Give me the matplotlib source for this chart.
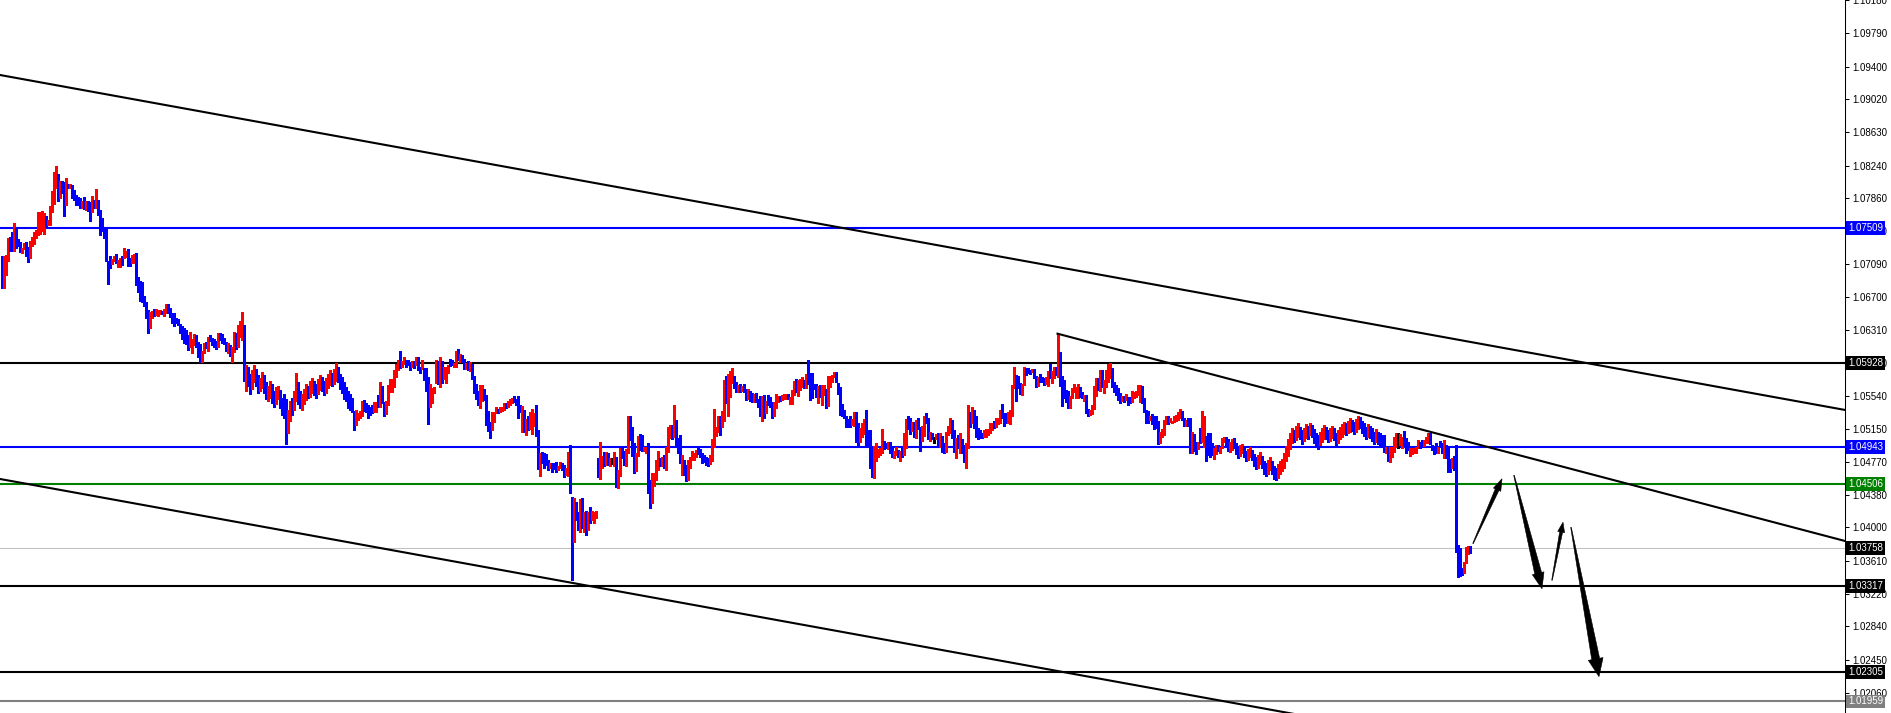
#!/usr/bin/env python3
"""EURUSD-style bar chart with channel lines, levels and forecast arrows."""

import numpy as np
import matplotlib
matplotlib.use('Agg')
import matplotlib.pyplot as plt
from matplotlib.patches import Polygon
from matplotlib.transforms import blended_transform_factory

W, H = 1891, 713
PLOT_W = 1845

# Bar highs / lows in pips (price * 1e4), one entry per bar, left to right
high_pips = [
    # 0-120
    10718, 10718, 10719, 10739, 10740, 10746, 10757, 10751, 10738, 10734,
    10727, 10733, 10734, 10729, 10736, 10740, 10746, 10748, 10770, 10770,
    10771, 10768, 10765, 10760, 10777, 10794, 10816, 10824, 10814, 10806,
    10806, 10805, 10809, 10802, 10802, 10801, 10795, 10790, 10787, 10786,
    10782, 10787, 10782, 10782, 10781, 10788, 10784, 10797, 10784, 10772,
    10763, 10750, 10751, 10712, 10718, 10715, 10718, 10720, 10713, 10716,
    10718, 10727, 10724, 10726, 10716, 10719, 10720, 10722, 10693, 10689,
    10687, 10671, 10664, 10655, 10652, 10653, 10656, 10656, 10655, 10655,
    10653, 10656, 10662, 10662, 10657, 10651, 10651, 10645, 10644, 10638,
    10636, 10634, 10631, 10625, 10629, 10621, 10627, 10625, 10617, 10615,
    10607, 10616, 10617, 10623, 10625, 10622, 10621, 10618, 10628, 10628,
    10627, 10622, 10617, 10616, 10614, 10611, 10629, 10628, 10637, 10642,
    10652,
    # 121-174
    10637, 10590, 10588, 10580, 10584, 10590, 10586, 10578, 10575, 10582,
    10579, 10570, 10566, 10572, 10568, 10560, 10564, 10566, 10561, 10552,
    10556, 10550, 10538, 10548, 10552, 10560, 10581, 10570, 10560, 10556,
    10562, 10568, 10566, 10572, 10575, 10571, 10568, 10574, 10578, 10576,
    10571, 10575, 10580, 10584, 10581, 10586, 10593, 10588, 10580, 10576,
    10570, 10565, 10560, 10556,
    # 175-262
    10552, 10536, 10538, 10534, 10536, 10548, 10549, 10546, 10543, 10541,
    10543, 10547, 10547, 10555, 10570, 10566, 10547, 10548, 10567, 10574,
    10574, 10584, 10591, 10596, 10607, 10595, 10600, 10596, 10596, 10594,
    10595, 10595, 10600, 10600, 10588, 10596, 10587, 10587, 10576, 10568,
    10563, 10565, 10596, 10595, 10600, 10595, 10588, 10588, 10590, 10597,
    10596, 10593, 10607, 10609, 10603, 10602, 10597, 10593, 10595, 10594,
    10591, 10577, 10568, 10560, 10567, 10567, 10562, 10555, 10536, 10524,
    10535, 10535, 10541, 10539, 10541, 10541, 10546, 10546, 10548, 10551,
    10552, 10554, 10551, 10554, 10543, 10542, 10538, 10527,
    # 263-349
    10531, 10535, 10539, 10534, 10543, 10514, 10487, 10488, 10487, 10486,
    10479, 10475, 10475, 10475, 10477, 10472, 10477, 10475, 10473, 10470,
    10488, 10497, 10436, 10434, 10430, 10418, 10433, 10434, 10418, 10419,
    10418, 10424, 10419, 10418, 10419, 10481, 10500, 10484, 10488, 10488,
    10487, 10481, 10481, 10488, 10482, 10467, 10493, 10494, 10490, 10492,
    10530, 10530, 10518, 10499, 10487, 10507, 10509, 10508, 10494, 10494,
    10499, 10456, 10464, 10464, 10479, 10490, 10481, 10482, 10485, 10494,
    10518, 10520, 10520, 10543, 10526, 10505, 10508, 10485, 10479, 10473,
    10479, 10482, 10490, 10487, 10491, 10493, 10492,
    # 350-437
    10487, 10485, 10482, 10481, 10485, 10504, 10539, 10518, 10530, 10530,
    10536, 10573, 10577, 10580, 10583, 10587, 10577, 10570, 10567, 10568,
    10566, 10568, 10562, 10562, 10560, 10557, 10556, 10557, 10551, 10554,
    10554, 10555, 10548, 10555, 10553, 10547, 10547, 10556, 10554, 10554,
    10555, 10556, 10556, 10556, 10553, 10561, 10572, 10574, 10573, 10574,
    10576, 10573, 10580, 10596, 10581, 10581, 10568, 10568, 10566, 10567,
    10567, 10567, 10562, 10577, 10577, 10579, 10582, 10582, 10569, 10565,
    10545, 10538, 10531, 10527, 10530, 10527, 10535, 10535, 10522, 10516,
    10522, 10527, 10538, 10514, 10514, 10494, 10495, 10499,
    # 438-524
    10492, 10493, 10515, 10501, 10499, 10500, 10500, 10493, 10490, 10494,
    10491, 10490, 10494, 10511, 10527, 10530, 10528, 10524, 10524, 10526,
    10528, 10518, 10519, 10530, 10534, 10528, 10512, 10511, 10506, 10509,
    10511, 10511, 10507, 10499, 10512, 10519, 10528, 10526, 10514, 10505,
    10508, 10511, 10504, 10497, 10499, 10543, 10535, 10541, 10538, 10530,
    10516, 10514, 10511, 10514, 10515, 10515, 10522, 10522, 10525, 10528,
    10528, 10538, 10545, 10534, 10534, 10535, 10538, 10567, 10588, 10579,
    10577, 10569, 10568, 10588, 10587, 10587, 10584, 10586, 10586, 10577,
    10576, 10580, 10576, 10575, 10576, 10583, 10591,
    # 525-611
    10583, 10588, 10588, 10627, 10605, 10577, 10573, 10561, 10560, 10554,
    10563, 10568, 10565, 10568, 10565, 10559, 10555, 10555, 10539, 10538,
    10543, 10566, 10575, 10575, 10584, 10584, 10573, 10584, 10591, 10593,
    10587, 10570, 10567, 10563, 10557, 10554, 10554, 10556, 10553, 10553,
    10560, 10559, 10560, 10567, 10567, 10566, 10552, 10538, 10536, 10530,
    10533, 10530, 10531, 10525, 10512, 10515, 10526, 10531, 10530, 10528,
    10525, 10531, 10532, 10535, 10539, 10536, 10528, 10526, 10528, 10528,
    10512, 10509, 10500, 10500, 10516, 10536, 10530, 10507, 10511, 10511,
    10499, 10493, 10497, 10497, 10494, 10505, 10506,
    # 612-689
    10506, 10503, 10500, 10504, 10505, 10499, 10494, 10496, 10498, 10495,
    10490, 10492, 10494, 10491, 10486, 10482, 10485, 10488, 10484, 10478,
    10476, 10479, 10482, 10478, 10472, 10470, 10474, 10478, 10480, 10487,
    10495, 10503, 10510, 10516, 10514, 10519, 10522, 10518, 10514, 10517,
    10521, 10519, 10522, 10520, 10515, 10510, 10508, 10512, 10516, 10520,
    10518, 10514, 10517, 10519, 10516, 10511, 10514, 10518, 10521, 10524,
    10522, 10525, 10528, 10526, 10523, 10527, 10531, 10529, 10525, 10522,
    10518, 10521, 10519, 10516, 10512, 10515, 10512, 10510,
    # 690-734
    10508, 10508, 10494, 10494, 10494, 10494, 10506, 10511, 10511, 10509,
    10506, 10513, 10505, 10500, 10493, 10493, 10493, 10494, 10502, 10500,
    10502, 10502, 10506, 10511, 10511, 10497, 10494, 10499, 10494, 10501,
    10499, 10502, 10497, 10493, 10480, 10481, 10484, 10497, 10379, 10376,
    10352, 10359, 10377, 10378, 10378,
]

low_pips = [
    # 0-120
    10681, 10681, 10696, 10712, 10724, 10724, 10724, 10727, 10730, 10723,
    10722, 10726, 10718, 10711, 10716, 10730, 10732, 10739, 10743, 10744,
    10747, 10744, 10752, 10754, 10754, 10770, 10779, 10798, 10782, 10786,
    10792, 10765, 10778, 10798, 10798, 10786, 10784, 10778, 10778, 10774,
    10774, 10773, 10772, 10771, 10759, 10770, 10774, 10774, 10766, 10743,
    10747, 10739, 10712, 10685, 10704, 10709, 10712, 10710, 10705, 10705,
    10708, 10716, 10717, 10706, 10706, 10710, 10710, 10684, 10676, 10665,
    10664, 10660, 10645, 10628, 10634, 10645, 10648, 10649, 10648, 10650,
    10650, 10648, 10651, 10651, 10647, 10640, 10636, 10640, 10637, 10628,
    10621, 10616, 10615, 10608, 10611, 10604, 10614, 10611, 10600, 10594,
    10594, 10604, 10610, 10607, 10618, 10614, 10611, 10609, 10611, 10620,
    10616, 10615, 10607, 10604, 10601, 10594, 10605, 10609, 10611, 10623,
    10620,
    # 121-174
    10572, 10560, 10566, 10556, 10562, 10570, 10566, 10557, 10560, 10563,
    10558, 10550, 10548, 10552, 10546, 10541, 10545, 10550, 10540, 10532,
    10528, 10498, 10510, 10525, 10532, 10538, 10548, 10545, 10540, 10538,
    10544, 10549, 10552, 10553, 10558, 10555, 10552, 10556, 10561, 10560,
    10555, 10558, 10563, 10567, 10566, 10568, 10572, 10570, 10562, 10557,
    10551, 10548, 10540, 10537,
    # 175-262
    10535, 10514, 10520, 10526, 10528, 10531, 10536, 10535, 10528, 10532,
    10534, 10535, 10535, 10541, 10541, 10546, 10531, 10533, 10543, 10559,
    10559, 10565, 10576, 10584, 10587, 10588, 10591, 10588, 10590, 10584,
    10588, 10587, 10590, 10584, 10581, 10586, 10573, 10560, 10521, 10541,
    10546, 10557, 10569, 10568, 10565, 10569, 10574, 10569, 10581, 10589,
    10590, 10588, 10588, 10596, 10594, 10594, 10586, 10586, 10584, 10583,
    10574, 10557, 10551, 10543, 10540, 10548, 10549, 10520, 10513, 10505,
    10514, 10524, 10534, 10534, 10535, 10536, 10538, 10540, 10541, 10543,
    10546, 10547, 10543, 10528, 10535, 10512, 10512, 10508,
    # 263-349
    10514, 10515, 10509, 10519, 10507, 10468, 10460, 10475, 10470, 10473,
    10467, 10469, 10465, 10468, 10465, 10467, 10470, 10467, 10459, 10461,
    10460, 10440, 10338, 10383, 10409, 10397, 10394, 10399, 10394, 10391,
    10397, 10405, 10409, 10405, 10411, 10459, 10457, 10470, 10472, 10473,
    10473, 10472, 10474, 10472, 10447, 10446, 10460, 10481, 10473, 10472,
    10487, 10502, 10484, 10464, 10466, 10484, 10491, 10490, 10490, 10487,
    10440, 10423, 10429, 10448, 10456, 10467, 10472, 10472, 10470, 10467,
    10488, 10505, 10504, 10506, 10497, 10487, 10475, 10461, 10461, 10454,
    10456, 10469, 10479, 10479, 10482, 10486, 10482,
    # 350-437
    10475, 10477, 10473, 10472, 10474, 10478, 10494, 10507, 10512, 10508,
    10518, 10525, 10546, 10531, 10553, 10569, 10563, 10559, 10559, 10559,
    10560, 10559, 10549, 10551, 10548, 10547, 10547, 10547, 10541, 10530,
    10525, 10528, 10534, 10543, 10541, 10528, 10530, 10540, 10547, 10548,
    10549, 10551, 10551, 10551, 10545, 10545, 10555, 10559, 10554, 10561,
    10565, 10563, 10563, 10568, 10549, 10552, 10562, 10553, 10546, 10553,
    10543, 10555, 10540, 10542, 10565, 10570, 10576, 10570, 10556, 10532,
    10531, 10528, 10518, 10518, 10518, 10520, 10519, 10500, 10494, 10500,
    10506, 10509, 10494, 10494, 10469, 10459, 10458, 10478,
    # 438-524
    10482, 10485, 10487, 10492, 10493, 10492, 10487, 10482, 10481, 10485,
    10482, 10478, 10482, 10485, 10493, 10515, 10509, 10513, 10506, 10505,
    10515, 10490, 10501, 10507, 10522, 10504, 10501, 10504, 10499, 10504,
    10494, 10494, 10488, 10487, 10488, 10508, 10511, 10505, 10488, 10481,
    10493, 10487, 10487, 10477, 10470, 10493, 10518, 10522, 10516, 10506,
    10504, 10505, 10505, 10506, 10506, 10508, 10511, 10514, 10516, 10518,
    10521, 10522, 10528, 10519, 10522, 10522, 10521, 10531, 10563, 10548,
    10563, 10556, 10555, 10567, 10579, 10581, 10580, 10582, 10575, 10565,
    10566, 10570, 10570, 10567, 10568, 10566, 10575,
    # 525-611
    10569, 10575, 10579, 10576, 10566, 10542, 10552, 10547, 10540, 10540,
    10552, 10559, 10552, 10552, 10553, 10552, 10548, 10534, 10530, 10532,
    10533, 10539, 10554, 10561, 10560, 10565, 10557, 10565, 10570, 10575,
    10565, 10559, 10555, 10549, 10546, 10548, 10547, 10549, 10543, 10546,
    10547, 10552, 10553, 10555, 10547, 10546, 10535, 10522, 10522, 10526,
    10521, 10515, 10516, 10498, 10499, 10506, 10508, 10521, 10521, 10524,
    10522, 10524, 10525, 10526, 10528, 10526, 10519, 10519, 10519, 10487,
    10487, 10490, 10486, 10492, 10499, 10500, 10494, 10478, 10485, 10482,
    10485, 10480, 10486, 10490, 10487, 10493, 10500,
    # 612-689
    10494, 10490, 10488, 10491, 10493, 10486, 10481, 10484, 10487, 10482,
    10478, 10479, 10483, 10479, 10472, 10468, 10470, 10474, 10469, 10463,
    10460, 10462, 10467, 10462, 10457, 10455, 10458, 10462, 10466, 10470,
    10478, 10484, 10492, 10499, 10500, 10502, 10506, 10503, 10498, 10501,
    10505, 10504, 10508, 10506, 10499, 10494, 10492, 10496, 10500, 10504,
    10503, 10500, 10501, 10505, 10502, 10497, 10499, 10503, 10506, 10509,
    10508, 10510, 10512, 10513, 10509, 10512, 10515, 10516, 10510, 10507,
    10503, 10506, 10505, 10501, 10498, 10500, 10498, 10496,
    # 690-734
    10494, 10488, 10487, 10478, 10477, 10482, 10488, 10494, 10493, 10497,
    10493, 10497, 10487, 10491, 10484, 10486, 10487, 10487, 10493, 10493,
    10495, 10495, 10499, 10499, 10498, 10491, 10486, 10487, 10487, 10494,
    10487, 10481, 10481, 10465, 10465, 10469, 10467, 10371, 10342, 10343,
    10344, 10347, 10358, 10369, 10370,
]

# r = up bar, b = down bar, k = unchanged
bar_dir = (
    "brrrbbrbbb" "rrbbrrrrrr" "rrbrrrrrbr" "bbrbrbbbbb" "rbrbbrbrbb"
    "bbbbbrrbrr" "brrbbrrbbb" "bbbbrrbrrr" "brrbbbbbbb" "bbbbrrrbbb"
    "rrbrbbbbrb" "bbbrbrrbrr" "r"
    "brbbrrbbrr" "bbrrbbrrbb" "bbrrbrrbbr" "rrbrrbbrrb" "brrrbrrbbb"
    "bbbb"
    "bbrrrrbbbb" "brrbrbbrrr" "rrrrbrrbbb" "rbrbbrbbbr" "rrrbrbrrrb"
    "brrbrbbrbr" "bbbbrrbbbb" "rrrbrrrbrr" "rbbbbrbr"
    "brrrbbrbbb" "brbbbrrbbr" "rbbrbbrbrb" "rbrrrbrrbr" "brkrbrrbbr"
    "rbbbrrbbrr" "bbrrrrbrbr" "rrbrbbbrbb" "rrrrrbb"
    "bbbbrrrrrb" "rrbrrrbbrb" "rbbrbbrbbb" "rbrbbbrrrb" "rrrbrrrbrr"
    "rbrbbbbbrb" "rrbrrrrbbb" "bbbbbrrbbr" "rrbbbbrr"
    "rrrbbrbbrr" "brbrrbbrbr" "bbrrbbrbkr" "brbbrrrbbr" "brbbrrbrbb"
    "bbbrrrrrbr" "rrbbbrrrrb" "bbrrbbbrbb" "rbbbrrb"
    "rrbrbbbbbr" "rrrrbbrbbr" "rrrbrbrrrr" "bbbbbrbrbb" "rrrrrbbbbr"
    "bbbbrrrrbr" "rrrrrbbrbb" "rbbrbrrbbb" "brrbrrr"
    "bbrrbbbrrb" "brrbbbrrbb" "brrbbbrrrr" "rrrrbrrbbr" "rbrbbbbrrr"
    "bbrrbbrrrr" "brrbbrrbbb" "brbbbrbb"
    "bbrbrrrrkr" "rbbbrrrrrb" "brrrbbbbrb" "brbbbrbbbb" "brrrb"
)

y_ticks = [1.10180, 1.09790, 1.09400, 1.09020, 1.08630, 1.08240, 1.07860,
           1.07470, 1.07090, 1.06700, 1.06310, 1.05930, 1.05540, 1.05150,
           1.04770, 1.04380, 1.04000, 1.03610, 1.03220, 1.02840, 1.02450,
           1.02060]

levels = [1.07509, 1.05928, 1.04943, 1.04506, 1.03317, 1.02305, 1.01959]
level_colors = ['#0000ff', '#000000', '#0000ff', '#008000', '#000000',
                '#000000', '#808080']
bid = 1.03758

# Trend lines as (bar index, price) end points
channel_top = [(-0.75, 1.09302), (921.75, 1.05376)]
channel_bottom = [(-0.75, 1.04567), (921.75, 1.00640)]
swing_line = [(528, 1.0627), (921.75, 1.0384)]

# Forecast arrows: start, end (bar index, price), shaft width, head width, head length (px)
arrows = [
    ((735.75, 1.0381), (750.25, 1.0457), 4, 8, 12),
    ((756.25, 1.0461), (770.25, 1.0328), 7, 12, 16),
    ((775.25, 1.0338), (780.75, 1.0406), 3, 7, 10),
    ((784.75, 1.0400), (798.75, 1.0225), 8, 15, 18),
]

COLORS = {'r': '#ff0000', 'b': '#0000ff', 'k': '#000000'}


def draw_arrow(ax, start, end, shaft_w, head_w, head_len):
    """Tapered arrow built in pixel space, drawn in data space."""
    p0 = ax.transData.transform(start)
    p1 = ax.transData.transform(end)
    d = p1 - p0
    u = d / np.hypot(*d)
    n = np.array([-u[1], u[0]])
    neck = p1 - u * head_len
    pts = np.array([p0 + n * 0.3, neck + n * shaft_w / 2, neck + n * head_w / 2,
                    p1, neck - n * head_w / 2, neck - n * shaft_w / 2, p0 - n * 0.3])
    pts = ax.transData.inverted().transform(pts)
    ax.add_patch(Polygon(pts, closed=True, fc='black', ec='black', lw=0.4, zorder=5))


def main():
    assert len(high_pips) == len(low_pips) == len(bar_dir), (len(high_pips), len(low_pips), len(bar_dir))
    plt.rcParams['font.family'] = ['Liberation Sans', 'DejaVu Sans']

    fig = plt.figure(figsize=(W / 100, H / 100), dpi=100)
    ax = fig.add_axes([0, 0, PLOT_W / W, 1])
    ax.set_xlim(-0.75, 921.75)
    ax.set_ylim(1.01824, 1.10181)

    hi = np.array(high_pips, dtype=float) / 1e4
    lo = np.array(low_pips, dtype=float) / 1e4
    idx = np.arange(len(hi))
    cols = [COLORS[c] for c in bar_dir]
    ax.vlines(idx, lo, hi, colors=cols, linewidth=0.75,
              antialiased=False, zorder=3)

    # horizontal levels
    for lvl, c in zip(levels, level_colors):
        ax.axhline(lvl, color=c, linewidth=1.5, zorder=2)
    ax.axhline(bid, color='#c0c0c0', linewidth=0.75, zorder=1)

    # trend lines
    for line in [channel_top, channel_bottom, swing_line]:
        xs, ys = zip(*line)
        ax.plot(xs, ys, color='black', linewidth=1.5, zorder=4)

    for start, end, sw, hw, hl in arrows:
        draw_arrow(ax, start, end, sw, hw, hl)

    # right price axis
    for side in ['left', 'top', 'bottom']:
        ax.spines[side].set_visible(False)
    ax.spines['right'].set_linewidth(0.75)
    ax.set_xticks([])
    ax.yaxis.tick_right()
    ax.set_yticks(y_ticks)
    ax.set_yticklabels([f'{v:.5f}' for v in y_ticks])
    ax.tick_params(axis='y', direction='out', length=3, width=0.75, pad=2,
                   labelsize=7)

    # price tags on the axis
    trans = blended_transform_factory(ax.transAxes, ax.transData)
    for lvl, c in list(zip(levels, level_colors)) + [(bid, '#000000')]:
        ax.text(1.0017, lvl, f'{lvl:.5f}', transform=trans, ha='left',
                va='center', fontsize=7, color='white', clip_on=False,
                zorder=10,
                bbox=dict(boxstyle='square,pad=0.2', fc=c, ec='none'))

    fig.savefig('out.png', dpi=100)


if __name__ == '__main__':
    main()
